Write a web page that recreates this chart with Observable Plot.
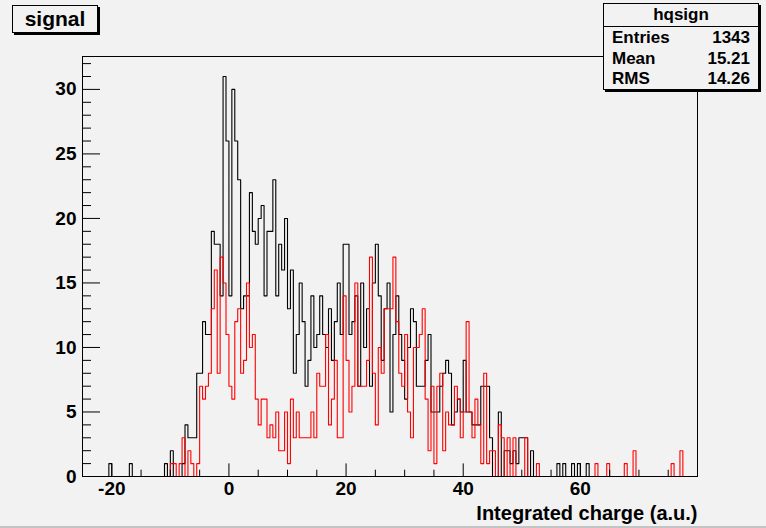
<!DOCTYPE html>
<html><head><meta charset="utf-8">
<script src="https://cdn.jsdelivr.net/npm/d3@7"></script>
<script src="https://cdn.jsdelivr.net/npm/@observablehq/plot@0.6"></script>
<style>
html,body{margin:0;padding:0;background:#f2f2f2;}
#wrap{position:relative;width:766px;height:528px;font-family:"Liberation Sans",Arial,sans-serif;font-weight:bold;color:#000;overflow:hidden;}
.box{position:absolute;background:#f2f2f2;border:1px solid #000;box-shadow:2px 2px 0 #000;box-sizing:border-box;}
#title{left:12px;top:5px;width:86px;height:28px;font-size:21px;text-align:center;line-height:26px;}
#stats{left:603px;top:3px;width:156px;height:87px;font-size:17px;}
#stats .hdr{text-align:center;height:22px;line-height:22px;border-bottom:1px solid #000;}
#stats .row{display:flex;justify-content:space-between;padding:0 8px 0 8px;height:20.5px;line-height:21px;}
#bottomline{position:absolute;left:0;top:526px;width:766px;height:2px;background:#c4c4c4;}
</style></head><body>
<div id="wrap"></div>
<script>
const xMin = -25, xMax = 80, binWidth = 0.5;
const histName = "hqsign";
const titleText = "signal";
const xTitle = "Integrated charge (a.u.)";
const statLabels = ["Entries", "Mean", "RMS"];
const statValues = ["1343", "15.21", "14.26"];
const xLabelTicks = [-20, 0, 20, 40, 60];
const yLabelTicks = [0, 5, 10, 15, 20, 25, 30];

const blackCounts = [
  0,0,0,0,0,0,0,0,0,1,
  0,0,0,0,0,0,1,0,0,0,
  0,0,0,0,0,0,0,0,1,0,
  2,0,0,0,1,4,3,3,3,8,
  8,12,11,11,19,18,18,14,31,26,
  14,30,26,23,13,14,14,22,19,18,
  20,21,14,19,19,23,14,18,16,20,
  13,16,8,11,15,12,7,9,14,10,
  11,14,11,10,13,9,12,15,11,18,
  18,11,12,14,7,15,10,13,7,15,
  18,14,9,13,15,5,11,14,11,9,
  6,10,13,12,7,7,7,9,11,5,
  5,5,7,8,9,8,4,5,6,5,
  9,5,5,4,4,4,7,7,7,3,
  0,0,5,0,2,2,1,2,1,3,
  3,3,0,2,0,0,0,0,0,0,
  0,0,1,0,1,0,0,1,0,1,
  0,0,1,0,0,0,0,0,0,0,
  0,0,0,0,0,0,0,0,0,0,
  0,0,0,0,0,0,0,0,0,0,
  0,0,0,0,0,0,0,0,0,0
];
const redCounts = [
  0,0,0,0,0,0,0,0,0,0,
  0,0,0,0,0,0,0,0,0,0,
  0,0,0,0,0,0,0,0,0,0,
  1,1,0,1,3,0,2,1,0,1,
  7,6,7,8,13,16,8,17,15,11,
  7,6,12,13,8,9,15,10,11,6,
  4,6,6,3,4,3,5,2,2,5,
  1,6,3,5,3,3,3,3,5,3,
  8,7,7,11,4,6,9,3,3,14,
  9,5,7,15,7,7,7,9,17,8,
  4,10,8,13,13,13,17,12,8,7,
  11,5,3,10,10,11,13,6,2,7,
  1,7,8,2,5,4,4,7,6,3,
  5,12,5,3,6,4,1,8,1,2,
  2,0,4,3,0,3,0,3,0,0,
  0,3,0,0,0,1,0,0,0,0,
  0,0,0,0,0,0,0,0,0,0,
  0,0,0,0,0,1,0,0,0,1,
  0,0,0,0,0,1,0,0,2,0,
  0,0,0,0,0,0,0,0,0,0,
  0,1,0,0,2,0,0,0,0,0
];

const n = blackCounts.length;
const edges = d3.range(n + 1).map(i => xMin + i * binWidth);
const toSteps = counts => edges.map((x, i) => ({x, y: counts[Math.min(i, n - 1)]}));
const yMax = d3.max(blackCounts) * 1.05;

const W = 766, H = 528, mL = 82, mR = 69, mT = 56, mB = 52;
const frameW = W - mL - mR, frameH = H - mT - mB;
const xMajor = d3.range(-20, 80, 20);
const xMinor = d3.range(-25, 80.1, 5).filter(v => !xMajor.includes(v));
const yMajor = d3.range(0, 32, 5);
const yMinor = d3.range(0, 33, 1).filter(v => v % 5 !== 0 && v < yMax);

const chart = Plot.plot({
  width: W, height: H,
  marginLeft: mL, marginRight: mR, marginTop: mT, marginBottom: mB,
  x: {domain: [xMin, xMax], label: null},
  y: {domain: [0, yMax], label: null},
  style: {background: "#f2f2f2", fontFamily: "Liberation Sans, Arial, sans-serif", fontWeight: "bold", fontSize: "19px", color: "#000", overflow: "visible"},
  marks: [
    Plot.line(toSteps(blackCounts), {x: "x", y: "y", curve: "step-after", stroke: "#000", strokeWidth: 1.1}),
    Plot.line(toSteps(redCounts), {x: "x", y: "y", curve: "step-after", stroke: "#ff0000", strokeWidth: 1.1}),
    Plot.frame({stroke: "#000", strokeWidth: 1}),
    Plot.tickX(xMajor, {x: d => d, insetTop: frameH - 12.6, stroke: "#000"}),
    Plot.tickX(xMinor, {x: d => d, insetTop: frameH - 6.3, stroke: "#000"}),
    Plot.tickY(yMajor, {y: d => d, insetRight: frameW - 18, stroke: "#000"}),
    Plot.tickY(yMinor, {y: d => d, insetRight: frameW - 9, stroke: "#000"}),
    Plot.axisX({ticks: xLabelTicks, tickSize: 0, tickPadding: 5, tickFormat: d => String(d)}),
    Plot.axisY({ticks: yLabelTicks, tickSize: 0, tickPadding: 6}),
    Plot.text([xTitle], {frameAnchor: "bottom-right", dy: 43, lineAnchor: "bottom", textAnchor: "end", fontSize: 20, fontWeight: "bold"})
  ]
});
const wrap = document.getElementById("wrap");
wrap.appendChild(chart);

const t = document.createElement("div");
t.className = "box"; t.id = "title"; t.textContent = titleText;
wrap.appendChild(t);

const s = document.createElement("div");
s.className = "box"; s.id = "stats";
const hdr = document.createElement("div"); hdr.className = "hdr"; hdr.textContent = histName; s.appendChild(hdr);
statLabels.forEach((lab, i) => {
  const r = document.createElement("div"); r.className = "row";
  const a = document.createElement("span"); a.textContent = lab;
  const b = document.createElement("span"); b.textContent = statValues[i];
  r.appendChild(a); r.appendChild(b); s.appendChild(r);
});
wrap.appendChild(s);

const bl = document.createElement("div"); bl.id = "bottomline"; wrap.appendChild(bl);
</script>
</body></html>
